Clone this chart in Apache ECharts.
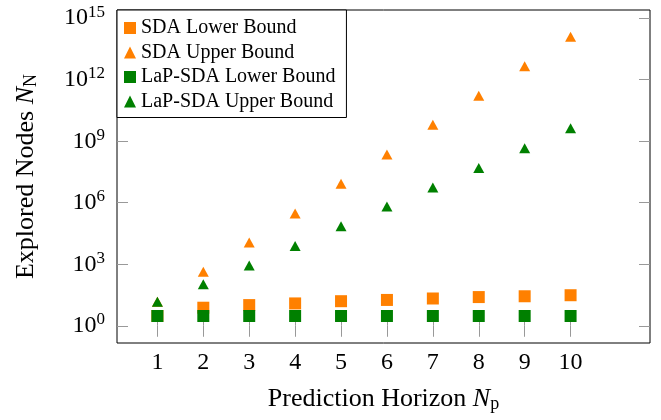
<!DOCTYPE html>
<html>
<head>
<meta charset="utf-8">
<script src="https://cdn.jsdelivr.net/npm/echarts@6/dist/echarts.min.js"></script>
<style>
  html, body { margin: 0; padding: 0; background: #fff; }
  #chart { width: 661px; height: 420px; }
</style>
</head>
<body>
<div id="chart"></div>
<script>
// prediction horizon N_p
const horizons = [1, 2, 3, 4, 5, 6, 7, 8, 9, 10]
// explored nodes
const sdaLower = [3, 7.6, 10.2, 12.3, 15.8, 18.2, 21.4, 25.1, 27.5, 30.9]
const sdaUpper = [15, 427, 1.15e4, 2.95e5, 8.5e6, 2.24e8, 6.3e9, 1.66e11, 4.5e12, 1.23e14]
const lapLower = [3, 3, 3, 3, 3, 3, 3, 3, 3, 3]
const lapUpper = [15, 107, 871, 7.8e3, 7.1e4, 6.5e5, 5.6e6, 5.0e7, 4.6e8, 4.3e9]
const yTickExps = [0, 3, 6, 9, 12, 15]

const serif = 'Liberation Serif'
const orange = '#ff8000'
const green = '#008000'

function pts(vals) {
  return vals.map((v, i) => [horizons[i], Math.log10(v)])
}

var myChart = echarts.init(document.getElementById('chart'))
myChart.setOption({
  animation: false,
  grid: {
    left: 117,
    right: 11,
    top: 10,
    bottom: 77,
    show: true,
    borderColor: '#000',
    borderWidth: 1
  },
  legend: {
    orient: 'vertical',
    left: 117,
    top: 10,
    padding: [8, 11, 6, 7],
    itemGap: 4.5,
    itemWidth: 12,
    itemHeight: 12,
    borderColor: '#000',
    borderWidth: 1,
    backgroundColor: '#fff',
    textStyle: { fontFamily: serif, fontSize: 20, color: '#000' },
    data: ['SDA Lower Bound', 'SDA Upper Bound', 'LaP-SDA Lower Bound', 'LaP-SDA Upper Bound']
  },
  xAxis: [
    {
      type: 'value',
      min: 0.12,
      max: 11.73,
      splitLine: { show: false },
      axisLine: { show: false },
      axisTick: { inside: true, length: 11, customValues: horizons, lineStyle: { color: '#999' } },
      axisLabel: {
        customValues: horizons,
        margin: 8,
        fontFamily: serif,
        fontSize: 24,
        color: '#000'
      },
      name: '{a|Prediction Horizon }{i|N}{s|p}',
      nameLocation: 'middle',
      nameGap: 42,
      nameTextStyle: {
        rich: {
          a: { fontFamily: serif, fontSize: 26, color: '#000' },
          i: { fontFamily: serif, fontSize: 26, fontStyle: 'italic', color: '#000' },
          s: { fontFamily: serif, fontSize: 18, color: '#000', padding: [10, 0, 0, 0] }
        }
      }
    },
    {
      type: 'value',
      position: 'top',
      min: 0.12,
      max: 11.73,
      splitLine: { show: false },
      axisLine: { show: false },
      axisTick: { inside: true, length: 11, customValues: horizons, lineStyle: { color: '#999' } },
      axisLabel: { show: false }
    }
  ],
  yAxis: [
    {
      type: 'value',
      min: -0.84,
      max: 15.4,
      splitLine: { show: false },
      axisLine: { show: false },
      axisTick: { inside: true, length: 11, customValues: yTickExps, lineStyle: { color: '#999' } },
      axisLabel: {
        customValues: yTickExps,
        margin: 12,
        formatter: function (v) {
          return '{b|10}{s|' + v + '}'
        },
        rich: {
          b: { fontFamily: serif, fontSize: 24, color: '#000' },
          s: { fontFamily: serif, fontSize: 17, color: '#000', padding: [0, 0, 12, 0] }
        }
      },
      name: '{a|Explored Nodes }{i|N}{s|N}',
      nameLocation: 'middle',
      nameRotate: 90,
      nameGap: 77,
      nameTextStyle: {
        rich: {
          a: { fontFamily: serif, fontSize: 26, color: '#000' },
          i: { fontFamily: serif, fontSize: 26, fontStyle: 'italic', color: '#000' },
          s: { fontFamily: serif, fontSize: 18, color: '#000', padding: [10, 0, 0, 0] }
        }
      }
    },
    {
      type: 'value',
      position: 'right',
      min: -0.84,
      max: 15.4,
      splitLine: { show: false },
      axisLine: { show: false },
      axisTick: { inside: true, length: 11, customValues: yTickExps, lineStyle: { color: '#999' } },
      axisLabel: { show: false }
    }
  ],
  series: [
    {
      name: 'SDA Lower Bound',
      type: 'scatter',
      symbol: 'rect',
      symbolSize: 12,
      itemStyle: { color: orange, opacity: 1 },
      data: pts(sdaLower)
    },
    {
      name: 'SDA Upper Bound',
      type: 'scatter',
      symbol: 'triangle',
      symbolSize: [11, 10],
      itemStyle: { color: orange, opacity: 1 },
      data: pts(sdaUpper)
    },
    {
      name: 'LaP-SDA Lower Bound',
      type: 'scatter',
      symbol: 'rect',
      symbolSize: 12,
      itemStyle: { color: green, opacity: 1 },
      data: pts(lapLower)
    },
    {
      name: 'LaP-SDA Upper Bound',
      type: 'scatter',
      symbol: 'triangle',
      symbolSize: [11, 10],
      itemStyle: { color: green, opacity: 1 },
      data: pts(lapUpper)
    }
  ]
})
</script>
</body>
</html>
